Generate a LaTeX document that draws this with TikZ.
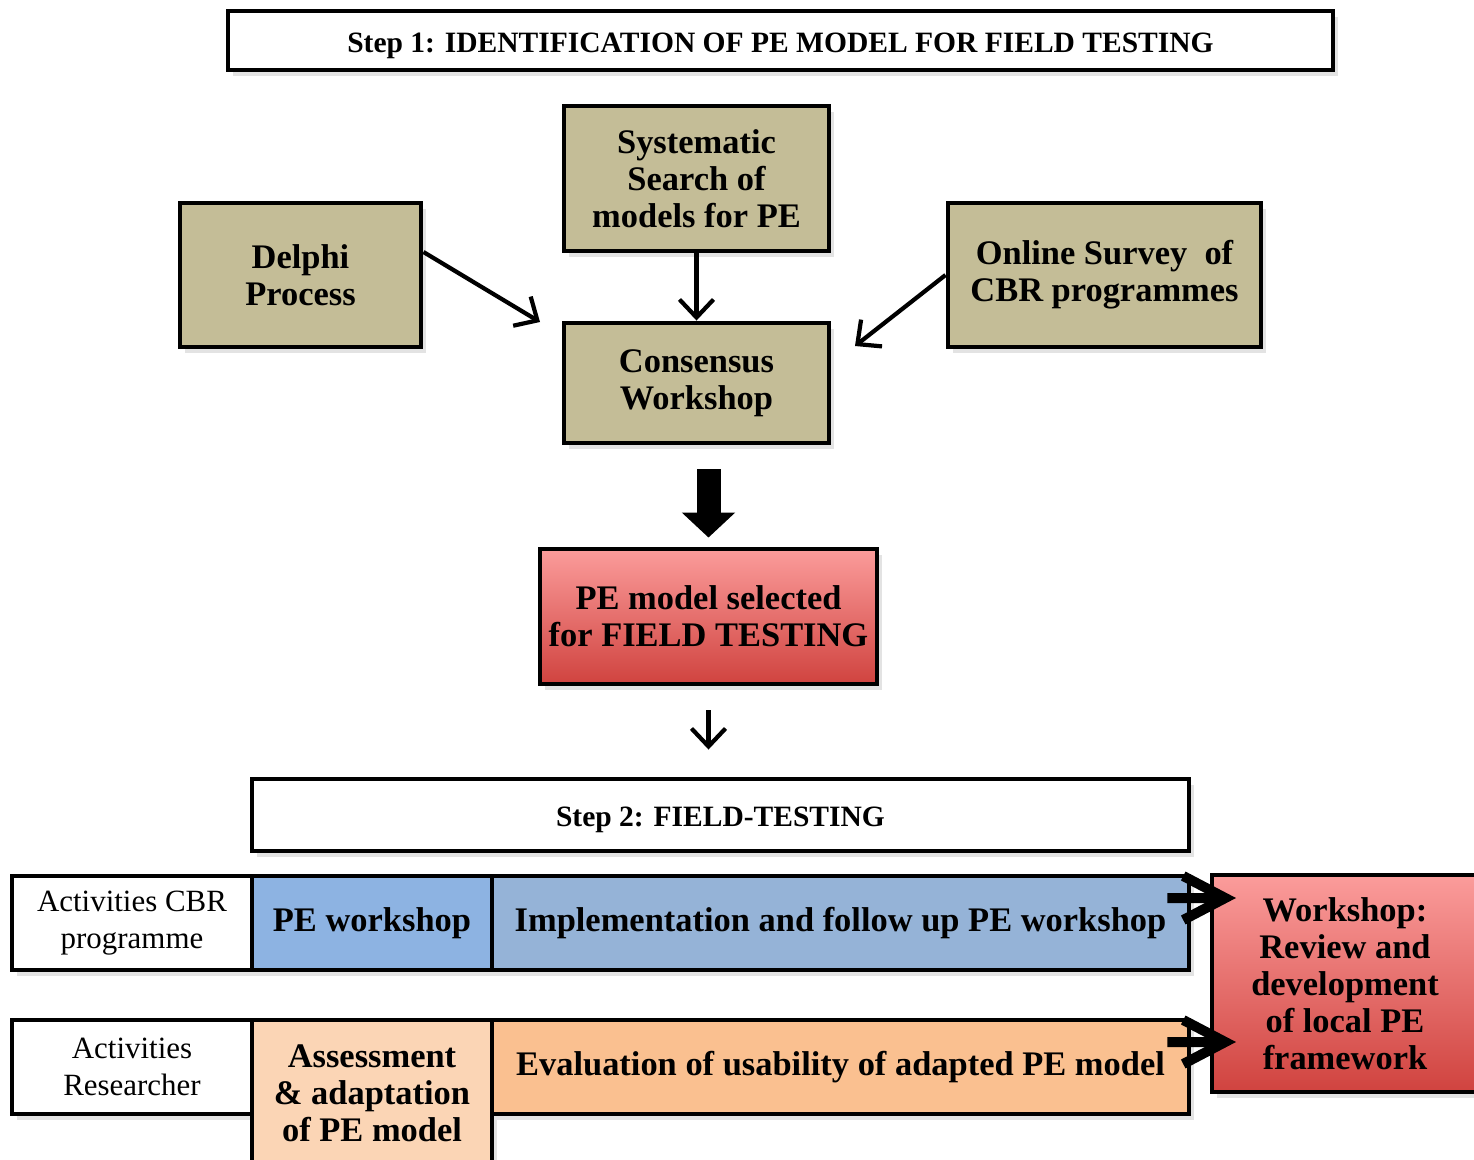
\documentclass[tikz,border=0pt]{standalone}
\usepackage{xcolor}
\usepackage{fontspec}
\setmainfont{Liberation Serif}
\usepackage{tikz}
\usetikzlibrary{calc,positioning,arrows.meta,shadows}

\definecolor{khaki}{HTML}{C4BD97}
\definecolor{redtop}{HTML}{FB9C9B}
\definecolor{redbot}{HTML}{D0433F}
\definecolor{peblue}{HTML}{8DB3E2}
\definecolor{implblue}{HTML}{95B3D7}
\definecolor{peach}{HTML}{FBD5B5}
\definecolor{evalorange}{HTML}{FAC090}

\begin{document}
\begin{tikzpicture}[
          box/.style={draw=black, line width=1.4pt, rectangle, align=center, inner sep=0pt,
            font=\fontsize{9.8pt}{10.5pt}\selectfont\bfseries,
            drop shadow={shadow xshift=0.5mm, shadow yshift=-0.6mm, opacity=0.22}},
          header/.style={box, fill=white, text height=8.6pt, text depth=1.9pt,
            font=\fontsize{8.4pt}{10pt}\selectfont\bfseries},
          sourcebox/.style={box, fill=khaki},
          redbox/.style={box, top color=redtop, bottom color=redbot},
          rowlabel/.style={box, fill=white, font=\fontsize{8.8pt}{10.3pt}\selectfont},
          flow/.style={line width=1.2pt, -{Straight Barb[length=1.8mm, width=3.4mm]}},
          bigflow/.style={line width=2.4mm, -{Triangle[width=5.2mm, length=2.5mm]}},
          fatflow/.style={line width=1mm, -{Straight Barb[length=4.2mm, width=4.4mm]}},
        ]
        \useasboundingbox (0,0) rectangle (14.74,-11.6);
        % step 1
        \node[header, minimum width=11.05cm, minimum height=0.59cm] (step1) at (7.805,-0.405)
          {Step 1: IDENTIFICATION OF PE MODEL FOR FIELD TESTING};
        \node[sourcebox, minimum width=2.65cm, minimum height=1.45cm] (search) at (6.965,-1.785)
          {Systematic\\Search of\\models for PE};
        \node[sourcebox, minimum width=2.41cm, minimum height=1.44cm] (delphi) at (3.005,-2.75)
          {Delphi\\Process};
        \node[sourcebox, minimum width=3.13cm, minimum height=1.44cm] (survey) at (11.045,-2.75)
          {Online Survey\ \ of\\CBR programmes};
        \node[sourcebox, minimum width=2.65cm, minimum height=1.2cm] (consensus) at (6.965,-3.83)
          {Consensus\\Workshop};
        \node[redbox, minimum width=3.37cm, minimum height=1.35cm] (selected) at (7.085,-6.165)
          {PE model selected\\for FIELD TESTING};
        \coordinate (delphiend) at (5.40,-3.22);
        \coordinate (surveyend) at (8.55,-3.46);
        \draw[flow] (search) -- (consensus);
        \draw[flow] ([yshift=2.3mm]delphi.east) -- (delphiend);
        \draw[flow] (survey.west) -- (surveyend);
        \draw[bigflow, shorten <=0.24cm, shorten >=0.09cm] (selected.north |- consensus.south) -- (selected.north);

        % step 2
        \node[header, minimum width=9.37cm, minimum height=0.72cm] (step2) at (7.205,-8.15)
          {Step 2: FIELD-TESTING};
        \draw[flow, shorten <=0.24cm, shorten >=0.27cm] (selected) -- (selected.south |- step2.north);
        \node[rowlabel, minimum width=2.4cm, minimum height=0.94cm] (cbr) at (1.32,-9.23)
          {Activities CBR\\programme};
        \node[box, fill=peblue, minimum width=2.4cm, minimum height=0.94cm] (peworkshop) at (3.72,-9.23)
          {PE workshop};
        \node[box, fill=implblue, minimum width=6.97cm, minimum height=0.94cm] (followup) at (8.405,-9.23)
          {Implementation and follow up PE workshop};
        \node[rowlabel, minimum width=2.4cm, minimum height=0.94cm] (researcher) at (1.32,-10.67)
          {Activities\\Researcher};
        \node[box, fill=peach, minimum width=2.4cm, minimum height=1.46cm] (assess) at (3.72,-10.93)
          {Assessment\\\& adaptation\\of PE model};
        \node[box, fill=evalorange, minimum width=6.97cm, minimum height=0.94cm] (usability) at (8.405,-10.67)
          {Evaluation of usability of adapted PE model};
        \node[redbox, minimum width=2.66cm, minimum height=2.17cm] (review) at (13.45,-9.835)
          {Workshop:\\Review and\\development\\of local PE\\framework};
        \coordinate (reviewin1) at (12.36,-8.98);
        \coordinate (reviewin2) at (12.36,-10.42);
        \draw[fatflow] ([xshift=-2.4mm, yshift=2.5mm]followup.east) -- (reviewin1);
        \draw[fatflow] ([xshift=-2.4mm, yshift=2.5mm]usability.east) -- (reviewin2);
      \end{tikzpicture}
\end{document}
